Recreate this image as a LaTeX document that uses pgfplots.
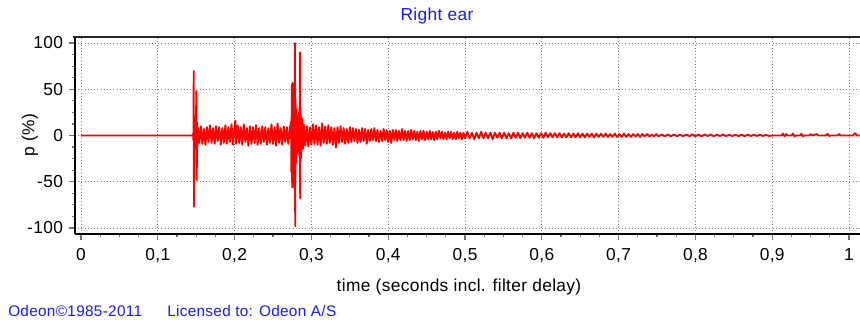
\documentclass[border=0pt]{standalone}
\usepackage{pgfplots}
\pgfplotsset{compat=1.18}
\usepackage{fontspec}
\setmainfont{Liberation Sans}[LetterSpace=2]
\definecolor{odblue}{RGB}{25,25,255}
\begin{document}
\fontsize{13}{15}\selectfont
\begin{tikzpicture}
\useasboundingbox (0,0) rectangle (645pt,240pt);
\begin{axis}[
  at={(56.25pt,64.5pt)}, anchor=south west, scale only axis,
  width=597.75pt, height=147.75pt,
  xmin=-0.0078, xmax=1.0299, ymin=-106.5, ymax=106.5,
  axis x line=bottom, axis y line=left,
  axis line style={-, line width=2pt, black},
  xtick={0,0.1,0.2,0.3,0.4,0.5,0.6,0.7,0.8,0.9,1},
  ytick={-100,-50,0,50,100},
  minor x tick num=3, minor y tick num=3,
  tick align=outside,
  major tick length=4.5pt, minor tick length=2.5pt,
  tick style={black!55, line width=0.9pt},
  grid=major, grid style={dotted, black!50, line width=0.6pt},
  /pgf/number format/use comma,
  /pgf/number format/assume math mode=true,
  ticklabel style={font=\fontsize{13}{15}\selectfont},
  xticklabel style={yshift=-2pt},
  clip=false,
]
\addplot[red, line width=1.4pt, line join=round] coordinates {
(0,0) (0.1455,0) (0.1460,2) (0.1464,-5) (0.1468,70) (0.1471,-77) (0.1475,18) (0.1480,-14) (0.1485,10) (0.1490,-12) (0.1495,9) (0.1503,48) (0.1507,-48) (0.1512,14) (0.1516,-11) (0.152,9)
(0.154,-8) (0.156,10) (0.158,-9) (0.160,7) (0.162,-10) (0.164,9) (0.166,-7) (0.168,11) (0.170,-8)
(0.172,8) (0.174,-9) (0.176,10) (0.178,-6) (0.180,9) (0.182,-10) (0.184,8) (0.186,-8) (0.188,11)
(0.190,-9) (0.192,9) (0.194,-7) (0.196,12) (0.198,-10) (0.200,10) (0.201,16) (0.202,-9) (0.204,11)
(0.206,-8) (0.208,9) (0.210,-10) (0.212,12) (0.214,-7) (0.216,8) (0.218,-11) (0.220,10) (0.222,-9)
(0.224,9) (0.226,-8) (0.228,11) (0.230,-10) (0.232,8) (0.234,-9) (0.236,10) (0.238,-7) (0.240,9)
(0.242,-10) (0.244,8) (0.246,-8) (0.248,12) (0.250,-9) (0.252,9) (0.254,-11) (0.256,13) (0.258,-8)
(0.260,8) (0.262,-10) (0.264,10) (0.266,-7) (0.268,9) (0.270,-9) (0.272,8)
(0.2735,15) (0.2740,-40) (0.2745,55) (0.2750,-56) (0.2755,57) (0.2760,-50) (0.2765,52) (0.2770,-55)
(0.2775,45) (0.2780,-58) (0.2783,35) (0.2786,100) (0.2789,-98) (0.2793,40) (0.2800,-30) (0.2805,28)
(0.2810,-20) (0.2815,22) (0.2820,-18) (0.2830,16) (0.2835,-20) (0.2840,25) (0.2845,-22) (0.2850,90)
(0.2854,-68) (0.2858,30) (0.2865,-25) (0.2870,20) (0.2875,-15) (0.2880,18) (0.2890,-14) (0.2900,12)
(0.292,-11) (0.294,10) (0.296,-12) (0.298,9) (0.300,-10) (0.302,12) (0.304,-9) (0.306,11) (0.308,-10)
(0.310,9) (0.312,-11) (0.314,13) (0.316,-8) (0.318,10) (0.320,-9) (0.322,11) (0.324,-8) (0.326,9)
(0.328,-10) (0.330,8) (0.332,-13) (0.334,9) (0.336,-8) (0.338,10) (0.340,-7) (0.342,8) (0.344,-9)
(0.346,7) (0.348,-8) (0.350,9) (0.352,-7) (0.354,8) (0.356,-6) (0.358,7) (0.360,-8) (0.362,6)
(0.364,-7) (0.366,8) (0.368,-6) (0.370,7) (0.372,-9) (0.374,6) (0.376,-6) (0.378,7) (0.380,-5)
(0.382,8) (0.384,-6) (0.386,6) (0.388,-7) (0.390,5) (0.392,-6) (0.394,7) (0.396,-5) (0.398,6)
(0.400,-7) (0.402,5) (0.404,-8) (0.406,6) (0.408,-5) (0.410,6) (0.412,-6) (0.414,5) (0.416,-5)
(0.418,7) (0.420,-5) (0.422,5) (0.424,-6) (0.426,5) (0.428,-5) (0.430,6) (0.432,-4) (0.434,5)
(0.436,-5) (0.438,4) (0.440,-6) (0.442,5) (0.444,-4) (0.446,5) (0.448,-5) (0.450,4) (0.452,-4)
(0.454,5) (0.456,-4) (0.458,4) (0.460,-5) (0.462,4) (0.464,-4) (0.466,5) (0.468,-3) (0.470,4)
(0.472,-4) (0.474,3) (0.476,-4) (0.478,4) (0.480,-3) (0.482,4) (0.484,-4) (0.486,3) (0.488,-4)
(0.490,4) (0.492,-3) (0.494,3) (0.496,-4) (0.498,3) (0.500,-3)
(0.503,4) (0.506,-3) (0.509,3) (0.512,-4) (0.515,3) (0.518,-3) (0.521,4) (0.524,-3) (0.527,3)
(0.530,-3) (0.533,3) (0.536,-4) (0.539,3) (0.542,-2.5) (0.545,3) (0.548,-3) (0.551,3) (0.554,-3)
(0.557,2.5) (0.560,-3) (0.563,3) (0.566,-2.5) (0.569,3) (0.572,-3) (0.575,2.5) (0.578,-2.5) (0.581,3)
(0.584,-2.5) (0.587,2.5) (0.590,-3) (0.593,2.5) (0.596,-2.5) (0.599,2.5) (0.602,-2.5) (0.605,3)
(0.608,-2) (0.611,2.5) (0.614,-2) (0.617,2.5) (0.620,-2) (0.623,2.5) (0.626,-2) (0.629,2)
(0.632,-2) (0.635,2.5) (0.638,-2) (0.641,2) (0.644,-2) (0.647,2.5) (0.650,-2) (0.653,2)
(0.656,-2) (0.659,2) (0.662,-1.5) (0.665,2) (0.668,-2) (0.671,2) (0.674,-1.5) (0.677,2)
(0.680,-1.5) (0.683,2) (0.686,-1.5) (0.689,1.5) (0.692,-1.5) (0.695,2) (0.698,-1.5) (0.701,1.5)
(0.704,-1.5) (0.707,2) (0.710,-1.5) (0.713,1.5) (0.716,-1.5) (0.719,1.5) (0.722,-1) (0.725,1.5)
(0.728,-1.5) (0.731,1.5) (0.734,-1) (0.737,1.5) (0.740,-1) (0.743,1) (0.746,-1) (0.749,1.5)
(0.752,-1) (0.756,1) (0.760,-0.8) (0.764,1) (0.768,-0.8) (0.772,1) (0.776,-0.8) (0.780,1)
(0.784,-0.8) (0.788,1) (0.792,-0.8) (0.796,1.2) (0.800,-0.8) (0.804,1) (0.808,-0.8) (0.812,1)
(0.816,-0.6) (0.820,1) (0.824,-0.8) (0.828,0.8) (0.832,-0.6) (0.836,1) (0.840,-0.6) (0.844,0.8)
(0.848,-0.6) (0.852,0.8) (0.856,-0.6) (0.860,0.8) (0.864,-0.6) (0.868,0.8) (0.872,-0.5) (0.876,0.8)
(0.880,-0.5) (0.884,0.8) (0.888,-0.5) (0.892,0.6) (0.896,-0.5) (0.900,0)
(0.912,0) (0.914,2) (0.916,-1) (0.918,1.5) (0.920,0) (0.925,0) (0.927,2) (0.929,-1) (0.931,0)
(0.936,0) (0.938,1.8) (0.940,-1) (0.942,0) (0.948,0) (0.950,1.5) (0.952,0) (0.958,1.5) (0.960,0)
(0.970,0) (0.972,1.8) (0.974,-0.5) (0.976,0) (0.985,0) (0.987,1.5) (0.989,0) (1.005,0)
(1.008,2.5) (1.010,0) (1.03,0)
};
\end{axis}
\draw[line width=1.6pt, black!85] (55pt,212.25pt) -- (650pt,212.25pt);
\node[text=odblue] at (327.75pt,228pt) {Right ear};
\node[rotate=90] at (22.5pt,138.75pt) {p (\%)};
\node at (344.25pt,24.75pt) {time (seconds incl. filter delay)};
\node[text=odblue, anchor=west, inner sep=0pt, font=\fontsize{11.5}{13}\selectfont] at (6pt,6.75pt) {Odeon©1985-2011};
\node[text=odblue, anchor=west, inner sep=0pt, font=\fontsize{11.5}{13}\selectfont] at (125.25pt,6.75pt) {Licensed to: Odeon A/S};
\end{tikzpicture}
\end{document}
